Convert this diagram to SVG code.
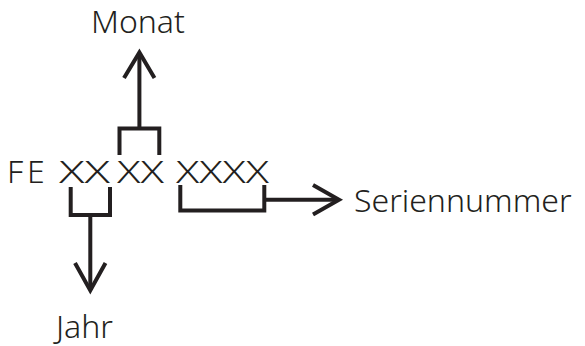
<svg xmlns="http://www.w3.org/2000/svg" width="585" height="346" viewBox="0 0 585 346">
<style>
text{font-family:"Noto Sans","Open Sans",sans-serif;font-size:32px;font-weight:350;fill:#231f20}
.ln{fill:none;stroke:#231f20;stroke-width:4;stroke-linejoin:miter;stroke-linecap:butt}
</style>
<rect width="585" height="346" fill="#fff"/>
<g id="code">
<text y="183"><tspan x="7">F</tspan><tspan x="27">E</tspan> <tspan x="59" textLength="51" lengthAdjust="spacingAndGlyphs">XX</tspan> <tspan x="117" textLength="47" lengthAdjust="spacingAndGlyphs">XX</tspan> <tspan x="176" textLength="93" lengthAdjust="spacingAndGlyphs">XXXX</tspan></text>
</g>
<g id="monat"><text x="91" y="33">Monat</text></g>
<g id="jahr"><text x="56" y="338">Jahr</text></g>
<g id="seriennummer"><text x="354" y="212">Seriennummer</text></g>
<g id="connectors">
<path class="ln" d="M119.5,155 V128.5 H159.3 V155"/>
<path class="ln" d="M139.4,128.5 V53"/>
<path class="ln" d="M124,78 L139.4,52.5 L154.5,78"/>
<path class="ln" d="M70.7,187 V215 H110 V187"/>
<path class="ln" d="M90.3,215 V290"/>
<path class="ln" d="M75,263 L90.3,290.5 L105.5,263"/>
<path class="ln" d="M180.3,185 V210.5 H264.3 V185"/>
<path class="ln" d="M264.3,199.8 H338"/>
<path class="ln" d="M313,185 L339,199.8 L313,214.5"/>
</g>
</svg>
